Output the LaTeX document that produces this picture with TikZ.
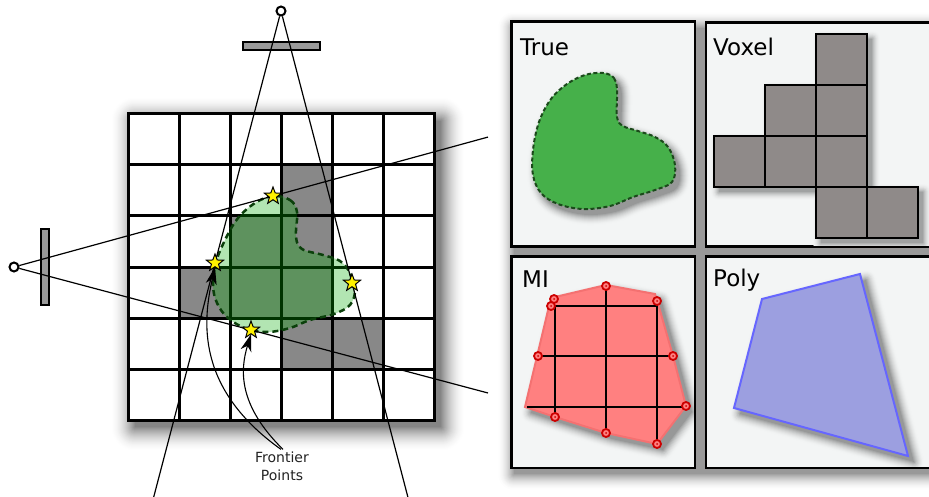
\documentclass[tikz,border=0pt]{standalone}
\usepackage{fontspec}
\setmainfont{DejaVu Sans}
\usetikzlibrary{arrows.meta,calc,positioning,shapes.geometric}
\definecolor{Voxel}{HTML}{888888}
\definecolor{VoxelWarm}{HTML}{8F8A89}
\definecolor{Sensor}{HTML}{9A9A9A}
\definecolor{Blob}{HTML}{00AA00}
\definecolor{BlobEdge}{HTML}{0B400B}
\definecolor{TrueFill}{HTML}{46B04A}
\definecolor{TrueEdge}{HTML}{1B4A1B}
\definecolor{PanelBg}{HTML}{F3F5F5}
\definecolor{MIFill}{HTML}{FF8080}
\definecolor{MIEdge}{HTML}{F47171}
\definecolor{MIDot}{HTML}{CC0000}
\definecolor{PolyFill}{HTML}{9C9FE0}
\definecolor{PolyEdge}{HTML}{6666FF}
\definecolor{Label}{HTML}{222222}
% soft shadow: spread, x offset, y offset, strength, background, path
\newcommand\dropshade[6]{%
  \foreach \k in {#1,...,1} {
    \pgfmathsetmacro\lw{2*\k}
    \pgfmathsetmacro\shadepct{#4*(1-\k/(#1+1))^1.8}
    \filldraw[draw=black!\shadepct!#5, fill=black!\shadepct!#5,
      line width=\lw pt, line join=round, shift={(#2,#3)}] #6;
  }
  \fill[black!#4!#5, shift={(#2,#3)}] #6;
}
% clip to the inside of a panel node
\newcommand\panelclip[1]{%
  \clip ([shift={(2.5,2.5)}]#1.north west) rectangle ([shift={(-2.5,-2.5)}]#1.south east);
}
\tikzset{
  gridline/.style={line width=3pt, draw=black, line cap=rect},
  sensor/.style={draw=black, line width=1.8pt, fill=Sensor},
  camera/.style={
    circle, draw=black, line width=2pt, fill=white,
    minimum size=9pt, inner sep=0pt
  },
  ray/.style={line width=1.2pt, draw=black},
  frontier/.style={
    star, star points=5, star point ratio=2.4, minimum size=18pt,
    inner sep=0pt, fill=yellow, draw=black, line width=1pt
  },
  pointer/.style={-{Stealth[length=17pt,width=11pt,inset=5pt]}, line width=1.1pt},
  panel/.style={
    rectangle, draw=black, line width=2.5pt, fill=PanelBg, inner sep=0pt
  },
  plabel/.style={anchor=base west, inner sep=0pt, font=\fontsize{23}{27}\selectfont},
  voxbox/.style={draw=black, line width=2.5pt, fill=VoxelWarm},
  mipt/.style={
    circle, draw=MIDot, line width=1.8pt, fill=MIFill,
    minimum size=8pt, inner sep=0pt
  }
}

\begin{document}
\begin{tikzpicture}[x=1pt, y=-1pt]
    \useasboundingbox (0,0) rectangle (929,497);
    % occupancy grid
    \dropshade{24}{7}{7}{48}{white}{(128,114) rectangle (434,420)}
    \fill[white] (128,114) rectangle (434,420);
    \foreach \c/\r in {3/1,2/2,3/2,1/3,2/3,3/3,3/4,4/4}
      \fill[Voxel] ({128+51*\c},{114+51*\r}) rectangle ++(51,51);
    \foreach \i in {0,...,6} {
      \draw[gridline] ({128+51*\i},114) -- ({128+51*\i},420);
      \draw[gridline] (128,{114+51*\i}) -- (434,{114+51*\i});
    }
    \path[fill=Blob, fill opacity=0.3, draw=BlobEdge, line width=2.5pt,
      dash pattern=on 6pt off 4pt]
      plot[smooth cycle, tension=0.6] coordinates {
        (273,196) (290,200) (297,212) (296,237) (302,249) (323,255)
        (340,261) (350,273) (355,290) (350,305) (334,314) (310,320)
        (290,328) (268,332) (247,329) (228,318) (217,303) (213,285)
        (216,262) (226,238) (238,218) (255,203)};
    % cameras
    \draw[sensor] (243,42) rectangle (320,50);
    \draw[sensor] (41,229) rectangle (49,305);
    \node[camera] (camtop) at (281,11) {};
    \node[camera] (camleft) at (14,267) {};
    \coordinate (f1) at (273,196);
    \coordinate (f2) at (215,263);
    \coordinate (f3) at (352,283);
    \coordinate (f4) at (251,330);
    \coordinate (rtl) at ($(camtop)!1.93!(f2)$);
    \coordinate (rtr) at ($(camtop)!1.79!(f3)$);
    \coordinate (rlu) at ($(camleft)!1.83!(f1)$);
    \coordinate (rll) at ($(camleft)!2.0!(f4)$);
    \draw[ray] (camtop) -- (rtl);
    \draw[ray] (camtop) -- (rtr);
    \draw[ray] (camleft) -- (rlu);
    \draw[ray] (camleft) -- (rll);
    \node[frontier] (fp1) at (f1) {};
    \node[frontier] (fp2) at (f2) {};
    \node[frontier] (fp3) at (f3) {};
    \node[frontier] (fp4) at (f4) {};
    \node[font=\fontsize{14}{18}\selectfont, align=center, text=Label, inner sep=2pt]
      (fplabel) at (282,466) {Frontier\\Points};
    \draw[pointer] ([xshift=-1pt]fplabel.north)
      .. controls (195,388) and (203,320) .. (fp2.south);
    \draw[pointer] ([xshift=1pt]fplabel.north)
      .. controls (238,405) and (240,370) .. (fp4.south);
    % panels
    \dropshade{16}{2}{6}{40}{white}{(511.7,21.7) rectangle (940,468)}
    \node[panel, minimum width=183.3pt, minimum height=225pt] (ptrue) at (603.35,134.2) {};
    \node[panel, minimum width=234pt, minimum height=224.4pt] (pvoxel) at (823,134.5) {};
    \node[panel, minimum width=183.3pt, minimum height=211.3pt] (pmi) at (603.35,362.35) {};
    \node[panel, minimum width=234pt, minimum height=211.3pt] (ppoly) at (823,362.35) {};
    \node[plabel] (ltrue) at (520,56) {True};
    \node[plabel] (lvoxel) at (713,56) {Voxel};
    \node[plabel] (lmi) at (522,287) {MI};
    \node[plabel] (lpoly) at (713,286) {Poly};
    % true shape
    \def\trueshape{plot[smooth cycle, tension=0.6] coordinates {
        (603,73) (614,78) (617,90) (617,117) (623,126) (638,131)
        (655,137) (668,147) (675,165) (672,182) (655,190) (633,197)
        (610,206) (583,209) (558,204) (541,193) (533,175) (533,150)
        (539,122) (551,99) (567,84) (585,75)}}
    \begin{scope}
      \panelclip{ptrue}
      \dropshade{10}{5}{6}{38}{PanelBg}{\trueshape}
    \end{scope}
    \path[fill=TrueFill, draw=TrueEdge, line width=2pt,
      dash pattern=on 4pt off 2.5pt] \trueshape;
    % voxel shape
    \begin{scope}
      \panelclip{pvoxel}
      \dropshade{8}{5}{5}{34}{PanelBg}{(816,34) -- (867,34) -- (867,187) -- (918,187)
        -- (918,238) -- (816,238) -- (816,187) -- (714,187) -- (714,136)
        -- (765,136) -- (765,85) -- (816,85) -- cycle}
    \end{scope}
    \foreach \c/\r in {2/0,1/1,2/1,0/2,1/2,2/2,2/3,3/3}
      \draw[voxbox] ({714+51*\c},{34+51*\r}) rectangle ++(51,51);
    % MI shape
    \def\mishape{(525,407) -- (550,302) -- (555,297) -- (606,285) -- (655,294)
      -- (657,300) -- (673,356) -- (686,406) -- (657,444) -- (606,433)
      -- (555,417) -- cycle}
    \begin{scope}
      \panelclip{pmi}
      \dropshade{10}{6}{6}{38}{PanelBg}{\mishape}
    \end{scope}
    \filldraw[fill=MIFill, draw=MIEdge, line width=2pt] \mishape;
    \draw[line width=2.2pt] (555,306) -- (555,417);
    \draw[line width=2.2pt] (606,286) -- (606,433);
    \draw[line width=2.2pt] (657,301) -- (657,444);
    \draw[line width=2.2pt] (551,306) -- (657,306);
    \draw[line width=2.2pt] (538,356) -- (673,356);
    \draw[line width=2.2pt] (527,407) -- (686,407);
    \foreach \p [count=\i] in {(554,299),(551,306),(606,286),(657,301),
        (538,356),(673,356),(686,406),(555,417),(606,433),(657,444)} {
      \node[mipt] (mi\i) at \p {};
      \fill[MIDot] (mi\i) circle (1pt);
    }
    % poly shape
    \def\polyshape{(762,299) -- (860,274) -- (908,456) -- (734,408) -- cycle}
    \begin{scope}
      \panelclip{ppoly}
      \dropshade{10}{6}{6}{38}{PanelBg}{\polyshape}
    \end{scope}
    \filldraw[fill=PolyFill, draw=PolyEdge, line width=2pt] \polyshape;
\end{tikzpicture}
\end{document}
